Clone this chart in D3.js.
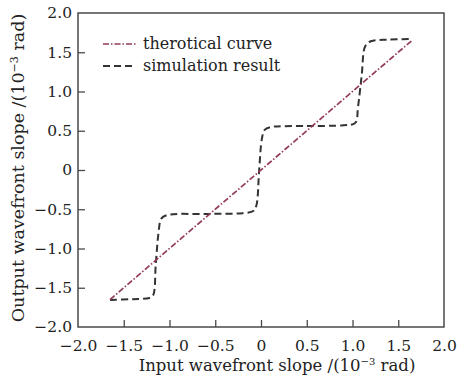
<!DOCTYPE html>
<html><head><meta charset="utf-8">
<script src="https://cdn.jsdelivr.net/npm/d3@7"></script>
<style>body{margin:0;background:#fff}svg{display:block}</style>
</head><body>
<svg id="c" width="461" height="383"></svg>
<script>
const xTicks = [-2.0,-1.5,-1.0,-0.5,0,0.5,1.0,1.5,2.0];
const yTicks = [-2.0,-1.5,-1.0,-0.5,0,0.5,1.0,1.5,2.0];
const theoryX = [-1.65, 1.65];
const theoryY = [-1.65, 1.65];
const simX = [-1.65,-1.4,-1.22,-1.18,-1.15,-1.12,-1.09,-1.03,-0.6,-0.2,-0.08,-0.05,-0.02,0.01,0.04,0.1,0.5,0.9,1.03,1.06,1.1,1.14,1.2,1.4,1.65];
const simY = [-1.655,-1.645,-1.63,-1.6,-1.2,-0.8,-0.62,-0.575,-0.56,-0.55,-0.52,-0.45,0,0.4,0.51,0.545,0.56,0.57,0.6,0.8,1.2,1.58,1.64,1.66,1.67];
const legendLabels = ["therotical curve","simulation result"];

const svg = d3.select("#c");
const L=78,R=444,T=13,B=327;
const x = d3.scaleLinear().domain([-2,2]).range([L,R]);
const y = d3.scaleLinear().domain([-2,2]).range([B,T]);
const font = "DejaVu Serif";
const fmt = d => d===0 ? "0" : d3.format(".1f")(d).replace("-","\u2212");

const axisCol="#4a4a4a";
svg.append("rect").attr("x",L).attr("y",T).attr("width",R-L).attr("height",B-T)
  .attr("fill","none").attr("stroke",axisCol).attr("stroke-width",1.5);

const xa = svg.append("g").attr("transform",`translate(0,${B})`)
  .call(d3.axisBottom(x).tickValues(xTicks).tickFormat(fmt).tickSizeInner(-7).tickSizeOuter(0).tickPadding(13));
const ya = svg.append("g").attr("transform",`translate(${L},0)`)
  .call(d3.axisLeft(y).tickValues(yTicks).tickFormat(fmt).tickSizeInner(-7).tickSizeOuter(0).tickPadding(6));
[xa,ya].forEach(a=>{
  a.select(".domain").remove();
  a.selectAll(".tick line").attr("stroke",axisCol).attr("stroke-width",1.3);
  a.selectAll(".tick text").attr("fill","#222").style("font-family",font).style("font-size","15.5px");
});
xa.selectAll(".tick line").filter(d=>d===-2||d===2).remove();
ya.selectAll(".tick line").filter(d=>d===-2||d===2).remove();

const thData = theoryX.map((v,i)=>[v,theoryY[i]]);
const simData = simX.map((v,i)=>[v,simY[i]]);
svg.append("path").datum(simData)
  .attr("d",d3.line().x(d=>x(d[0])).y(d=>y(d[1])).curve(d3.curveCatmullRom.alpha(0.5)))
  .attr("fill","none").attr("stroke","#333").attr("stroke-width",2).attr("stroke-dasharray","7,4");
svg.append("path").datum(thData).attr("d",d3.line().x(d=>x(d[0])).y(d=>y(d[1])))
  .attr("fill","none").attr("stroke","#933a5a").attr("stroke-width",1.7).attr("stroke-dasharray","6,2,1.5,2");

const lg = svg.append("g");
const styles=[{c:"#933a5a",w:1.7,da:"6,2,1.5,2"},{c:"#333",w:2,da:"7,4"}];
legendLabels.forEach((t,i)=>{
  const yy = 44 + i*22;
  lg.append("line").attr("x1",103).attr("x2",136).attr("y1",yy).attr("y2",yy)
    .attr("stroke",styles[i].c).attr("stroke-width",styles[i].w).attr("stroke-dasharray",styles[i].da);
  lg.append("text").attr("x",143).attr("y",yy+5).text(t)
    .style("font-family",font).style("font-size","16px").attr("fill","#222");
});

const xl = svg.append("text").attr("x",277).attr("y",371).attr("text-anchor","middle")
  .style("font-family",font).style("font-size","16.5px").attr("fill","#222");
xl.append("tspan").text("Input wavefront slope /(10");
xl.append("tspan").text("\u22123").attr("dy",-6).style("font-size","10px");
xl.append("tspan").text(" rad)").attr("dy",6);

const yl = svg.append("text").attr("transform",`translate(24,168) rotate(-90)`).attr("text-anchor","middle")
  .style("font-family",font).style("font-size","17.5px").attr("fill","#222");
yl.append("tspan").text("Output wavefront slope /(10");
yl.append("tspan").text("\u22123").attr("dy",-6).style("font-size","11px");
yl.append("tspan").text(" rad)").attr("dy",6);
</script>
</body></html>
